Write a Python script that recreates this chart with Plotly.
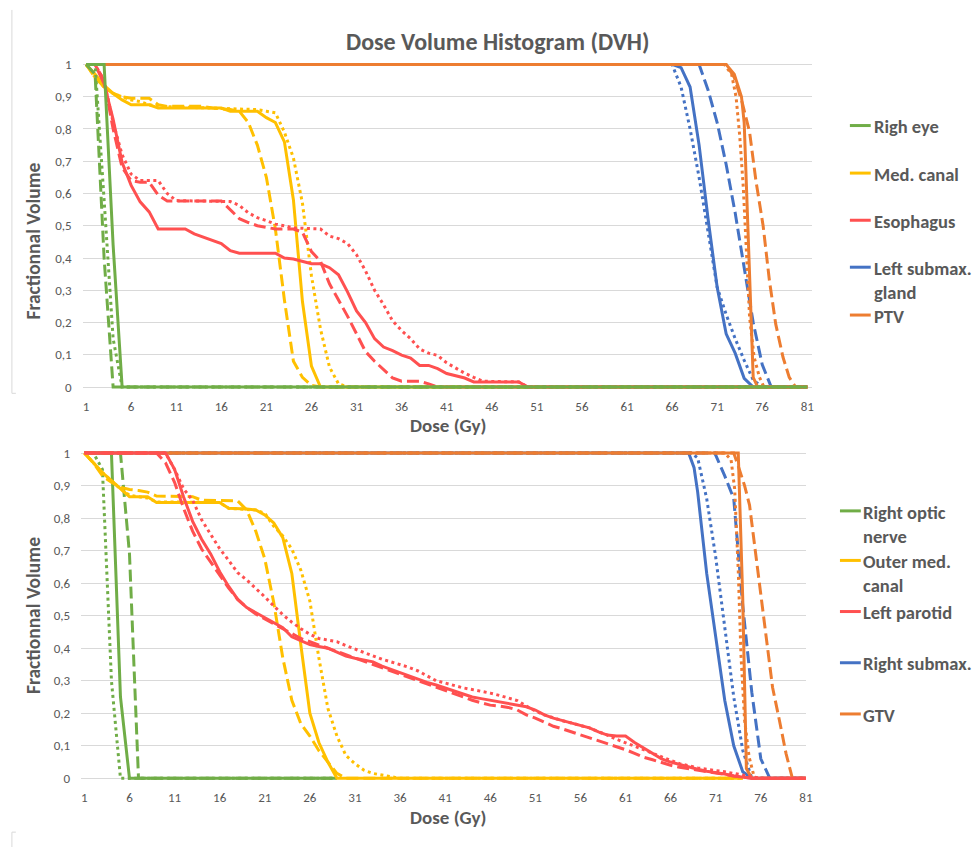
import plotly.graph_objects as go

# ---------------- data: TOP chart (dose in Gy, fractional volume) ----------------
eye_solid_x = [1, 3, 4, 5, 81]
eye_solid_y = [1, 1, 0.44, 0, 0]
eye_dash_x = [1, 2, 3, 4, 81]
eye_dash_y = [1, 0.97, 0.40, 0, 0]
eye_dot_x = [1, 2, 3, 4, 5, 81]
eye_dot_y = [1, 1, 0.58, 0.15, 0, 0]

mc_solid_x = [1, 2, 3, 4, 5, 6, 8, 9, 16, 17, 20, 21, 22, 23, 24, 25, 26, 27, 81]
mc_solid_y = [1, 0.97, 0.935, 0.91, 0.89, 0.875, 0.875, 0.865, 0.865, 0.855, 0.855, 0.835, 0.82, 0.76, 0.58, 0.265, 0.065, 0, 0]
mc_dash_x = [1, 2, 3, 4, 5, 6, 8, 9, 10, 14, 15, 17, 18, 19, 20, 21, 22, 23, 24, 25, 26, 27, 81]
mc_dash_y = [1, 0.96, 0.93, 0.91, 0.9, 0.895, 0.895, 0.875, 0.87, 0.87, 0.865, 0.86, 0.855, 0.82, 0.75, 0.65, 0.49, 0.27, 0.08, 0.03, 0.005, 0, 0]
mc_dot_x = [1, 2, 3, 4, 5, 6, 7, 8, 9, 20, 21, 22, 23, 24, 25, 26, 27, 28, 29, 30, 81]
mc_dot_y = [1, 0.96, 0.93, 0.91, 0.9, 0.89, 0.885, 0.875, 0.87, 0.86, 0.855, 0.85, 0.79, 0.71, 0.57, 0.345, 0.18, 0.062, 0.01, 0, 0]

es_solid_x = [1, 2, 3, 4, 5, 6, 7, 8, 9, 12, 13, 14, 15, 16, 17, 18, 22, 23, 24, 25, 26, 27, 28, 29, 30,
              31, 32, 33, 34, 35, 36, 37, 38, 39, 40, 41, 42, 43, 44, 49, 50, 81]
es_solid_y = [1, 1, 0.94, 0.83, 0.696, 0.625, 0.574, 0.543, 0.49, 0.49, 0.475, 0.465, 0.455, 0.445, 0.423, 0.415,
              0.415, 0.4, 0.397, 0.39, 0.382, 0.382, 0.37, 0.348, 0.295, 0.236, 0.2, 0.15, 0.124, 0.113, 0.099,
              0.09, 0.067, 0.067, 0.057, 0.042, 0.034, 0.028, 0.016, 0.016, 0, 0]
es_dash_x = [1, 2, 3, 4, 5, 6, 7, 8, 9, 10, 16, 17, 18, 19, 20, 21, 22, 24, 25, 26, 27, 28, 29, 30, 31, 32,
             33, 34, 35, 36, 38, 39, 40, 81]
es_dash_y = [1, 1, 0.95, 0.8, 0.68, 0.64, 0.635, 0.635, 0.595, 0.577, 0.577, 0.55, 0.522, 0.51, 0.5, 0.495,
             0.49, 0.49, 0.48, 0.42, 0.39, 0.32, 0.27, 0.22, 0.165, 0.11, 0.08, 0.055, 0.028, 0.018, 0.018,
             0.01, 0, 0]
es_dot_x = [1, 2, 3, 4, 5, 6, 7, 9, 10, 11, 17, 18, 19, 20, 21, 22, 23, 24, 27, 28, 29, 30, 31, 32, 33, 34,
            35, 36, 37, 38, 39, 40, 41, 42, 43, 44, 45, 49, 50, 81]
es_dot_y = [1, 1, 0.95, 0.82, 0.72, 0.66, 0.64, 0.64, 0.6, 0.578, 0.575, 0.563, 0.54, 0.525, 0.516, 0.505,
            0.5, 0.493, 0.49, 0.468, 0.46, 0.445, 0.41, 0.36, 0.3, 0.255, 0.205, 0.175, 0.15, 0.118, 0.105,
            0.098, 0.075, 0.058, 0.043, 0.03, 0.018, 0.016, 0, 0]

lsg_solid_x = [1, 66, 67, 68, 69, 70, 71, 72, 73, 74, 75, 81]
lsg_solid_y = [1, 1, 0.99, 0.93, 0.75, 0.52, 0.31, 0.165, 0.105, 0.027, 0, 0]
lsg_dash_x = [1, 69, 70, 71, 72, 73, 74, 75, 76, 77, 81]
lsg_dash_y = [1, 1, 0.92, 0.82, 0.69, 0.54, 0.37, 0.2, 0.07, 0, 0]
lsg_dot_x = [1, 66, 67, 68, 69, 70, 71, 72, 73, 74, 75, 76, 81]
lsg_dot_y = [1, 1, 0.93, 0.8, 0.65, 0.48, 0.31, 0.225, 0.15, 0.083, 0.022, 0, 0]

ptv_solid_x = [1, 72, 72.9, 73.7, 74.0, 74.25, 74.6, 75.0, 75.5, 81]
ptv_solid_y = [1, 1, 0.97, 0.9, 0.82, 0.62, 0.31, 0.03, 0, 0]
ptv_dash_x = [1, 72, 72.9, 73.8, 74.6, 75.3, 76.1, 76.8, 77.5, 78.3, 79.0, 79.7, 81]
ptv_dash_y = [1, 1, 0.96, 0.88, 0.79, 0.64, 0.5, 0.33, 0.195, 0.093, 0.03, 0, 0]
ptv_dot_x = [1, 71.8, 72.6, 73.1, 73.5, 73.9, 74.25, 74.6, 75.1, 75.7, 76.2, 81]
ptv_dot_y = [1, 1, 0.97, 0.9, 0.78, 0.62, 0.42, 0.216, 0.093, 0.03, 0, 0]

# ---------------- data: BOTTOM chart ----------------
ron_solid_x = [1, 4, 5, 6, 29]
ron_solid_y = [1, 1, 0.25, 0, 0]
ron_dash_x = [1, 5, 6, 7, 29]
ron_dash_y = [1, 1, 0.69, 0, 0]
ron_dot_x = [1, 2, 3, 4, 5, 29]
ron_dot_y = [1, 1, 0.95, 0.3, 0, 0]

omc_solid_x = [1, 2, 3, 4, 5, 6, 8, 9, 16, 17, 19, 20, 21, 22, 23, 24, 25, 26, 27, 28, 29, 74]
omc_solid_y = [1, 0.97, 0.94, 0.915, 0.89, 0.866, 0.866, 0.848, 0.848, 0.83, 0.828, 0.825, 0.81, 0.785,
               0.74, 0.63, 0.41, 0.2, 0.11, 0.05, 0, 0]
omc_dash_x = [1, 2, 3, 4, 5, 6, 7, 8, 9, 13, 14, 18, 19, 20, 21, 22, 23, 24, 25, 26, 27, 28, 29, 30, 74]
omc_dash_y = [1, 0.97, 0.93, 0.91, 0.895, 0.888, 0.885, 0.88, 0.868, 0.866, 0.855, 0.853, 0.825, 0.76,
              0.675, 0.54, 0.37, 0.24, 0.168, 0.13, 0.085, 0.05, 0.015, 0, 0]
omc_dot_x = [1, 2, 3, 4, 5, 6, 7, 8, 9, 16, 17, 19, 20, 21, 22, 23, 24, 25, 26, 27, 28, 29, 30, 31, 32,
             33, 34, 35, 36, 74]
omc_dot_y = [1, 0.97, 0.94, 0.915, 0.89, 0.87, 0.866, 0.862, 0.85, 0.848, 0.83, 0.828, 0.825, 0.815,
             0.775, 0.745, 0.705, 0.64, 0.545, 0.37, 0.215, 0.13, 0.07, 0.045, 0.025, 0.015, 0.01, 0.005, 0, 0]

lp_solid_x = [1] + list(range(10, 76)) + [81]
lp_solid_y = [1, 1, 0.95, 0.865, 0.79, 0.735, 0.69, 0.635, 0.59, 0.55, 0.525, 0.51, 0.495, 0.478, 0.463,
              0.435, 0.422, 0.411, 0.405, 0.4, 0.388, 0.376, 0.369, 0.364, 0.358, 0.345, 0.335, 0.325,
              0.315, 0.303, 0.295, 0.287, 0.278, 0.27, 0.26, 0.25, 0.245, 0.24, 0.235, 0.23, 0.226, 0.22,
              0.21, 0.195, 0.185, 0.177, 0.17, 0.163, 0.155, 0.143, 0.133, 0.13, 0.13, 0.11, 0.093, 0.076,
              0.06, 0.05, 0.042, 0.035, 0.028, 0.022, 0.018, 0.013, 0.007, 0.003, 0, 0]
lp_dash_x = [1] + list(range(9, 76)) + [81]
lp_dash_y = [1, 1, 0.97, 0.91, 0.83, 0.76, 0.705, 0.665, 0.625, 0.585, 0.55, 0.525, 0.505, 0.49, 0.475,
             0.462, 0.445, 0.43, 0.42, 0.41, 0.4, 0.39, 0.378, 0.37, 0.36, 0.35, 0.338, 0.33, 0.32, 0.31,
             0.3, 0.29, 0.28, 0.27, 0.26, 0.25, 0.24, 0.232, 0.225, 0.222, 0.218, 0.21, 0.195, 0.185, 0.172,
             0.16, 0.152, 0.143, 0.135, 0.125, 0.115, 0.107, 0.098, 0.088, 0.077, 0.065, 0.057, 0.048, 0.04,
             0.034, 0.03, 0.025, 0.02, 0.016, 0.012, 0.007, 0.003, 0, 0]
lp_dot_x = [1] + list(range(10, 77)) + [81]
lp_dot_y = [1, 1, 0.95, 0.89, 0.855, 0.795, 0.75, 0.706, 0.67, 0.632, 0.61, 0.585, 0.558, 0.53, 0.503,
            0.48, 0.46, 0.443, 0.43, 0.425, 0.42, 0.408, 0.397, 0.387, 0.377, 0.366, 0.358, 0.35, 0.341,
            0.33, 0.315, 0.3, 0.293, 0.285, 0.278, 0.273, 0.268, 0.262, 0.255, 0.247, 0.239, 0.222, 0.207,
            0.195, 0.185, 0.177, 0.17, 0.163, 0.155, 0.143, 0.133, 0.12, 0.11, 0.1, 0.088, 0.077, 0.065,
            0.055, 0.045, 0.038, 0.032, 0.028, 0.025, 0.02, 0.015, 0.01, 0.003, 0, 0]

rs_solid_x = [1, 68, 68.6, 69, 70, 71, 72, 73, 74, 75, 81]
rs_solid_y = [1, 1, 0.955, 0.88, 0.63, 0.43, 0.24, 0.1, 0.02, 0, 0]
rs_dash_x = [1, 70.9, 72, 73, 74, 75, 76, 77, 81]
rs_dash_y = [1, 1, 0.93, 0.86, 0.53, 0.265, 0.06, 0, 0]
rs_dot_x = [1, 68.3, 69, 70, 71, 72, 73, 74, 75, 81]
rs_dot_y = [1, 1, 0.985, 0.86, 0.68, 0.46, 0.25, 0.086, 0, 0]

gtv_solid_x = [1, 73.5, 74.0, 74.4, 75.0, 81]
gtv_solid_y = [1, 1, 0.55, 0.03, 0, 0]
gtv_dash_x = [1, 73, 73.5, 74.2, 74.75, 75.7, 76.6, 77.3, 78.05, 78.8, 79.5, 81]
gtv_dash_y = [1, 1, 0.96, 0.9, 0.84, 0.635, 0.43, 0.28, 0.18, 0.076, 0, 0]
gtv_dot_x = [1, 72, 72.7, 73.1, 73.5, 73.8, 74.2, 74.7, 75.3, 81]
gtv_dot_y = [1, 1, 0.98, 0.89, 0.64, 0.38, 0.18, 0.066, 0, 0]

top_names = ["Righ eye", "Med. canal", "Esophagus", "Left submax.<br>gland", "PTV"]
bottom_names = ["Right optic<br>nerve", "Outer med.<br>canal", "Left parotid", "Right submax.", "GTV"]
x_ticks = [1, 6, 11, 16, 21, 26, 31, 36, 41, 46, 51, 56, 61, 66, 71, 76, 81]
y_ticks = [0, 0.1, 0.2, 0.3, 0.4, 0.5, 0.6, 0.7, 0.8, 0.9, 1]
y_tick_text = ["0", "0,1", "0,2", "0,3", "0,4", "0,5", "0,6", "0,7", "0,8", "0,9", "1"]

# ---------------- styling ----------------
W, H = 980, 851
FONT = "Carlito, Lato, sans-serif"
GREY = "#595959"
GRID = "#D9D9D9"
GREEN, YELLOW, RED, BLUE, ORANGE = "#70AD47", "#FFC000", "#FF5050", "#4472C4", "#ED7D31"
DASH = {"solid": "solid", "dash": "12px,5px", "dot": "3px,3.5px"}


def px(v):
    return v / W


def py(v):
    return 1 - v / H


fig = go.Figure()


def add(x, y, color, style, name, xa, ya):
    fig.add_trace(go.Scatter(
        x=x, y=y, mode="lines", name=name, showlegend=False, hoverinfo="skip",
        line=dict(color=color, width=3, dash=DASH[style]), xaxis=xa, yaxis=ya))


# top chart (drawing order: blue, orange, yellow, red, green)
top_series = [
    (BLUE, "Left submax. gland", [(lsg_dot_x, lsg_dot_y, "dot"), (lsg_dash_x, lsg_dash_y, "dash"), (lsg_solid_x, lsg_solid_y, "solid")]),
    (ORANGE, "PTV", [(ptv_dot_x, ptv_dot_y, "dot"), (ptv_dash_x, ptv_dash_y, "dash"), (ptv_solid_x, ptv_solid_y, "solid")]),
    (YELLOW, "Med. canal", [(mc_dot_x, mc_dot_y, "dot"), (mc_dash_x, mc_dash_y, "dash"), (mc_solid_x, mc_solid_y, "solid")]),
    (RED, "Esophagus", [(es_dot_x, es_dot_y, "dot"), (es_dash_x, es_dash_y, "dash"), (es_solid_x, es_solid_y, "solid")]),
    (GREEN, "Righ eye", [(eye_dot_x, eye_dot_y, "dot"), (eye_dash_x, eye_dash_y, "dash"), (eye_solid_x, eye_solid_y, "solid")]),
]
for color, name, lines in top_series:
    for x, y, st in lines:
        add(x, y, color, st, name, "x", "y")

# bottom chart (drawing order: green, blue, orange, yellow, red)
bottom_series = [
    (GREEN, "Right optic nerve", [(ron_dot_x, ron_dot_y, "dot"), (ron_dash_x, ron_dash_y, "dash"), (ron_solid_x, ron_solid_y, "solid")]),
    (BLUE, "Right submax.", [(rs_dot_x, rs_dot_y, "dot"), (rs_dash_x, rs_dash_y, "dash"), (rs_solid_x, rs_solid_y, "solid")]),
    (ORANGE, "GTV", [(gtv_dot_x, gtv_dot_y, "dot"), (gtv_dash_x, gtv_dash_y, "dash"), (gtv_solid_x, gtv_solid_y, "solid")]),
    (YELLOW, "Outer med. canal", [(omc_dot_x, omc_dot_y, "dot"), (omc_dash_x, omc_dash_y, "dash"), (omc_solid_x, omc_solid_y, "solid")]),
    (RED, "Left parotid", [(lp_dot_x, lp_dot_y, "dot"), (lp_dash_x, lp_dash_y, "dash"), (lp_solid_x, lp_solid_y, "solid")]),
]
for color, name, lines in bottom_series:
    for x, y, st in lines:
        add(x, y, color, st, name, "x2", "y2")

xcommon = dict(tickmode="array", tickvals=x_ticks, ticktext=[str(t) for t in x_ticks],
               showgrid=False, zeroline=False, showline=False, ticks="",
               tickfont=dict(family=FONT, size=13, color=GREY), ticklabelstandoff=6)
ycommon = dict(tickmode="array", tickvals=y_ticks, ticktext=y_tick_text, range=[-0.012, 1.012],
               showgrid=True, gridcolor=GRID, gridwidth=1, zeroline=False, showline=False, ticks="",
               tickfont=dict(family=FONT, size=13, color=GREY), ticklabelstandoff=10)

fig.update_layout(
    width=W, height=H, margin=dict(l=0, r=0, t=0, b=0),
    paper_bgcolor="white", plot_bgcolor="white", showlegend=False,
    font=dict(family=FONT, color=GREY),
    xaxis=dict(domain=[px(83.3), px(818)], range=[0.626, 81.54], anchor="y", **xcommon),
    yaxis=dict(domain=[py(390.6), py(57.1)], anchor="x", **ycommon),
    xaxis2=dict(domain=[px(81.7), px(811.7)], range=[0.637, 81.0], anchor="y2", **xcommon),
    yaxis2=dict(domain=[py(785.6), py(449.4)], anchor="x2", **ycommon),
)

ann = []
ann.append(dict(text="<b>Dose Volume Histogram (DVH)</b>", x=px(501), y=py(38), xref="paper", yref="paper",
                showarrow=False, font=dict(family=FONT, size=24, color=GREY), xanchor="center", yanchor="middle"))
for yy in (425, 821):
    ann.append(dict(text="<b>Dose (Gy)</b>", x=px(451), y=py(yy), xref="paper", yref="paper", showarrow=False,
                    font=dict(family=FONT, size=19, color=GREY), xanchor="center", yanchor="middle"))
for yy in (239, 617):
    ann.append(dict(text="<b>Fractionnal Volume</b>", x=px(33), y=py(yy), xref="paper", yref="paper",
                    showarrow=False, textangle=-90, font=dict(family=FONT, size=19.5, color=GREY),
                    xanchor="center", yanchor="middle"))

shapes = []
LEG_FS = 18.5
top_leg_y = [122.7, 170.7, 218.3, 265.7, 314]
top_colors = [GREEN, YELLOW, RED, BLUE, ORANGE]
for name, yy, c in zip(top_names, top_leg_y, top_colors):
    shapes.append(dict(type="line", xref="paper", yref="paper", x0=px(856), x1=px(877), y0=py(yy), y1=py(yy),
                       line=dict(color=c, width=3)))
    ann.append(dict(text="<b>" + name + "</b>", x=px(878), y=py(yy - 12.5), xref="paper", yref="paper",
                    showarrow=False, align="left", xanchor="left", yanchor="top",
                    font=dict(family=FONT, size=LEG_FS, color=GREY)))
bot_leg_y = [511.7, 561.7, 613.3, 665, 716.7]
bot_colors = [GREEN, YELLOW, RED, BLUE, ORANGE]
for name, yy, c in zip(bottom_names, bot_leg_y, bot_colors):
    shapes.append(dict(type="line", xref="paper", yref="paper", x0=px(846), x1=px(867), y0=py(yy), y1=py(yy),
                       line=dict(color=c, width=3)))
    ann.append(dict(text="<b>" + name + "</b>", x=px(867), y=py(yy - 12.5), xref="paper", yref="paper",
                    showarrow=False, align="left", xanchor="left", yanchor="top",
                    font=dict(family=FONT, size=LEG_FS, color=GREY)))

# faint chart-frame remnants at the left edge
shapes.append(dict(type="line", xref="paper", yref="paper", x0=px(12), x1=px(12), y0=py(6), y1=py(393),
                   line=dict(color=GRID, width=1)))
shapes.append(dict(type="line", xref="paper", yref="paper", x0=px(12), x1=px(16), y0=py(393), y1=py(393),
                   line=dict(color=GRID, width=1)))
shapes.append(dict(type="line", xref="paper", yref="paper", x0=px(12), x1=px(16), y0=py(836), y1=py(836),
                   line=dict(color=GRID, width=1)))
shapes.append(dict(type="line", xref="paper", yref="paper", x0=px(12), x1=px(12), y0=py(836), y1=py(851),
                   line=dict(color=GRID, width=1)))

fig.update_layout(annotations=ann, shapes=shapes)
fig.write_html("out.html")
